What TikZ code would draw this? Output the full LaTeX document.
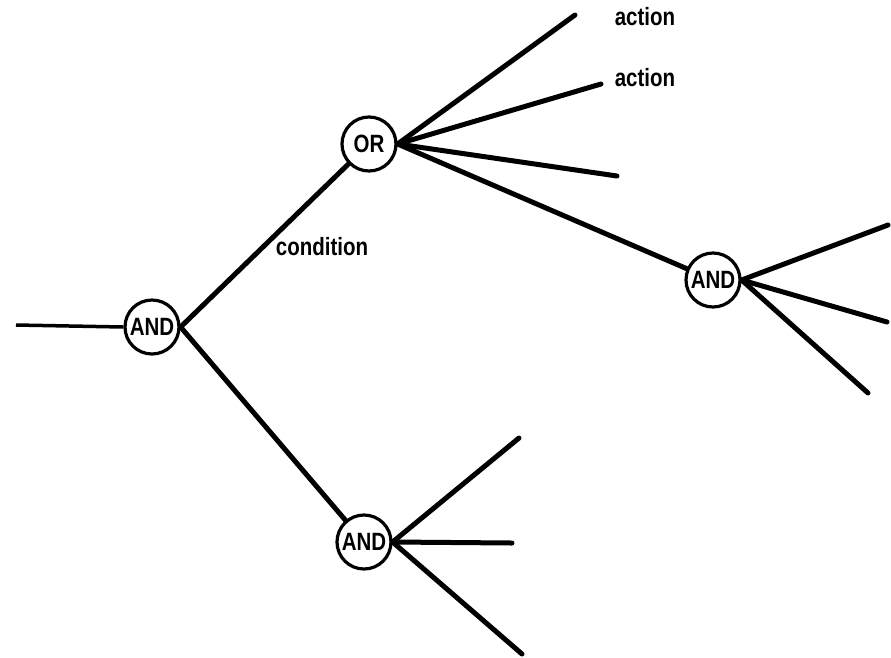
\documentclass[tikz,border=0pt]{standalone}
\usepackage{fontspec}
\newfontfamily\labfont{Liberation Sans}[FakeStretch=0.82]
\begin{document}
\begin{tikzpicture}[x=1pt,y=-1pt,
  gate/.style={circle,draw,line width=3.2pt,minimum size=54pt,inner sep=0pt,
    font=\labfont\bfseries\fontsize{25}{27}\selectfont},
  branch/.style={line width=5pt,line cap=round},
  lab/.style={font=\labfont\bfseries\fontsize{25}{27}\selectfont,inner sep=0pt}]
\useasboundingbox (0,0) rectangle (891,657);
\node[gate] (and1) at (152,327) {AND};
\node[gate] (or) at (369,144) {OR};
\node[gate] (and3) at (713,280) {AND};
\node[gate] (and2) at (364,542) {AND};
\coordinate (in) at (16,325);
\coordinate (o1) at (575,15);
\coordinate (o2) at (601,84);
\coordinate (o3) at (617,176);
\coordinate (r1) at (888,225);
\coordinate (r2) at (887,322);
\coordinate (r3) at (868,393);
\coordinate (b1) at (519,438);
\coordinate (b2) at (512,543);
\coordinate (b3) at (522,654);
\draw[line width=3.5pt] (in) -- (and1.west);
\draw[branch] (and1.east) -- (or);
\draw[branch] (and1.east) -- (and2);
\draw[branch] (or.east) -- (and3);
\foreach \e in {o1,o2,o3} \draw[branch] (or.east) -- (\e);
\foreach \e in {r1,r2,r3} \draw[branch] (and3.east) -- (\e);
\foreach \e in {b1,b2,b3} \draw[branch] (and2.east) -- (\e);
\node[lab] (a1) at (645,17) {action};
\node[lab] (a2) at (645,78) {action};
\node[lab] (c1) at (322,247) {condition};
\end{tikzpicture}
\end{document}
